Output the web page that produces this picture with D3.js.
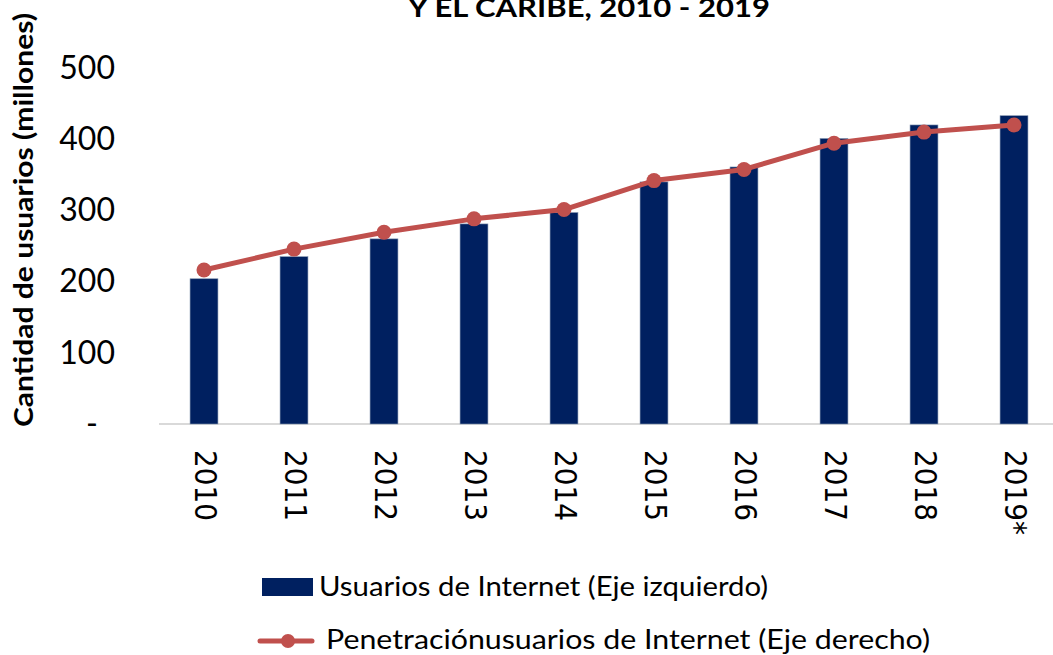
<!doctype html>
<html>
<head>
  <meta charset="utf8"/>
  <style>
    body { margin: 0; background: #fff; }
    svg { display: block; }
  </style>
</head>
<body>
  <svg width='1053' height='655'></svg>
  <script src="https://cdn.jsdelivr.net/npm/d3@7"></script>
  <script>

    // values
    var years = ['2010', '2011', '2012', '2013', '2014', '2015', '2016', '2017', '2018', '2019*'];
    var usuarios = [204, 235, 260, 281, 297, 340, 361, 401, 420, 433];      // millones
    var penetracion = [34.6, 39.3, 43.1, 46.1, 48.2, 54.7, 57.2, 63.1, 65.6, 67.2]; // %
    var yTicks = [0, 100, 200, 300, 400, 500];

    var svg = d3.select('svg'),
        navy = '#002060',
        red = '#c0504d',
        baseY = 424,
        topY = 68;

    var x = d3.scaleBand()
              .domain(years)
              .range([159, 1059])
              .paddingInner(0.69)
              .paddingOuter(0.345);
    var y = d3.scaleLinear()
              .domain([0, 500])
              .range([baseY, topY]);
    // right axis is outside the visible picture, only its scale is used
    var y2 = d3.scaleLinear()
               .domain([0, 80])
               .range([baseY, topY]);

    // title (first line is cut off above the picture)
    svg.append('text')
       .attr('x', 589)
       .attr('y', 17)
       .attr('text-anchor', 'middle')
       .attr('font-family', 'Lato, sans-serif')
       .attr('font-weight', 'bold')
       .attr('font-size', 27)
       .attr('textLength', 362)
       .attr('lengthAdjust', 'spacingAndGlyphs')
       .text('Y EL CARIBE, 2010 - 2019');

    // y axis title
    svg.append('text')
       .attr('transform', 'translate(33,220) rotate(-90)')
       .attr('text-anchor', 'middle')
       .attr('font-family', 'Lato, sans-serif')
       .attr('font-weight', 'bold')
       .attr('font-size', 26)
       .attr('textLength', 414)
       .attr('lengthAdjust', 'spacingAndGlyphs')
       .text('Cantidad de usuarios (millones)');

    // left axis
    var gy = svg.append('g')
                .attr('transform', 'translate(115,0)')
                .call(d3.axisLeft(y)
                        .tickValues(yTicks)
                        .tickSize(0)
                        .tickPadding(0)
                        .tickFormat(function(d) { return d === 0 ? '-' : d; }));
    gy.select('.domain').remove();
    gy.selectAll('text')
      .attr('font-family', 'Lato, sans-serif')
      .attr('font-size', 32)
      .attr('fill', '#000')
      .attr('x', function(d) { return d === 0 ? -17 : 0; });

    // baseline
    svg.append('line')
       .attr('x1', x.range()[0])
       .attr('x2', 1053)
       .attr('y1', y(0))
       .attr('y2', y(0))
       .attr('stroke', '#d9d9d9')
       .attr('stroke-width', 2);

    // bars
    svg.append('g')
       .selectAll('rect')
       .data(usuarios)
       .join('rect')
         .attr('x', function(d, i) { return x(years[i]); })
         .attr('y', function(d) { return y(d); })
         .attr('width', x.bandwidth())
         .attr('height', function(d) { return y(0) - y(d); })
         .attr('fill', navy)
         .attr('stroke', '#8496b0')
         .attr('stroke-width', 0.6);

    // x axis labels, rotated
    var gx = svg.append('g')
                .attr('transform', 'translate(0,' + (baseY + 1) + ')')
                .call(d3.axisBottom(x).tickSize(0).tickPadding(0));
    gx.select('.domain').remove();
    gx.selectAll('text')
      .attr('font-family', "'DejaVu Sans Condensed', 'DejaVu Sans', sans-serif")
      .style('font-stretch', 'condensed')
      .attr('font-size', 31)
      .attr('fill', '#000')
      .attr('transform', 'rotate(90)')
      .attr('x', 25)
      .attr('y', -2)
      .attr('dy', '0.35em')
      .attr('text-anchor', 'start');

    // line
    var line = d3.line()
                 .x(function(d, i) { return x(years[i]) + x.bandwidth() / 2; })
                 .y(function(d) { return y2(d); });

    svg.append('path')
       .datum(penetracion)
       .attr('fill', 'none')
       .attr('stroke', red)
       .attr('stroke-width', 5)
       .attr('stroke-linejoin', 'round')
       .attr('stroke-linecap', 'round')
       .attr('d', line);

    svg.append('g')
       .selectAll('circle')
       .data(penetracion)
       .join('circle')
         .attr('cx', function(d, i) { return x(years[i]) + x.bandwidth() / 2; })
         .attr('cy', function(d) { return y2(d); })
         .attr('r', 7.5)
         .attr('fill', red);

    // legend
    var legend = svg.append('g')
                    .attr('font-family', 'Lato, sans-serif')
                    .attr('font-size', 27)
                    .attr('fill', '#000');

    legend.append('rect')
          .attr('x', 262)
          .attr('y', 578)
          .attr('width', 51)
          .attr('height', 18)
          .attr('fill', navy);
    legend.append('text')
          .attr('x', 319)
          .attr('y', 596)
          .attr('textLength', 449)
          .attr('lengthAdjust', 'spacingAndGlyphs')
          .text('Usuarios de Internet (Eje izquierdo)');

    legend.append('line')
          .attr('x1', 260)
          .attr('x2', 312)
          .attr('y1', 641)
          .attr('y2', 641)
          .attr('stroke', red)
          .attr('stroke-width', 5)
          .attr('stroke-linecap', 'round');
    legend.append('circle')
          .attr('cx', 288)
          .attr('cy', 641)
          .attr('r', 7)
          .attr('fill', red);
    legend.append('text')
          .attr('x', 326)
          .attr('y', 649)
          .attr('textLength', 604)
          .attr('lengthAdjust', 'spacingAndGlyphs')
          .text('Penetraciónusuarios de Internet (Eje derecho)');
  </script>
</body>
</html>
